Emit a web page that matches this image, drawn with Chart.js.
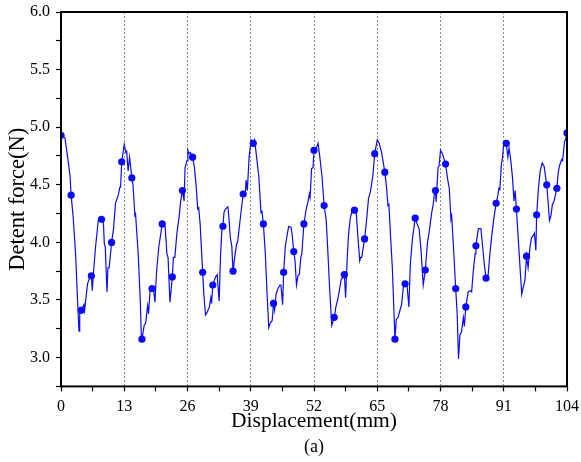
<!DOCTYPE html>
<html>
<head>
<meta charset="utf-8">
<script src="https://cdn.jsdelivr.net/npm/chart.js@4.4.1/dist/chart.umd.min.js"></script>
<style>
  html, body { margin: 0; padding: 0; background: #fff; }
  canvas { display: block; }
</style>
</head>
<body>
<canvas id="forceChart" width="581" height="462"></canvas>
<script>
// traced curve between the marked samples
const traceX = [0.8, 1.36, 1.85, 2.5, 3.0, 3.35, 3.7, 3.85, 4.7, 4.85, 5.45, 5.95, 6.43, 6.7, 7.1, 7.66,
    8.7, 8.9, 9.1, 9.45, 9.65, 9.9, 10.8, 11.2, 11.77, 12.1, 12.25, 13.0, 13.35, 13.5, 13.8, 14.1,
    14.8, 15.2, 15.3, 15.87, 16.3, 16.5, 17.1, 17.4, 17.8, 18.0, 18.3, 19.0, 19.3, 19.65, 20.1,
    21.4, 21.77, 22.0, 22.4, 23.1, 23.4, 23.8, 24.3, 24.6, 25.3, 25.5, 25.9, 26.08, 26.3, 26.6,
    27.4, 27.8, 28.1, 28.3, 28.6, 29.36, 29.7, 30.0, 30.5, 30.8, 30.95, 31.75, 32.1, 32.5, 32.8, 33.1,
    33.5, 33.8, 34.3, 34.5, 34.8, 35.1, 35.7, 36.1, 36.3, 36.8, 37.9, 38.05, 38.3, 38.66, 39.07,
    39.8, 40.2, 40.66, 41.1, 41.3, 42.0, 42.36, 42.7, 43.0, 43.4, 43.9, 44.2, 44.6, 45.0, 45.2, 45.55,
    46.1, 46.5, 46.8, 47.3, 47.5, 48.1, 48.4, 48.7, 48.97, 49.3, 49.5, 50.4, 50.8, 51.05, 51.2, 51.5, 51.8,
    52.4, 52.83, 53.2, 53.65, 54.5, 54.8, 55.2, 55.65, 56.5, 56.85, 57.2, 57.6, 57.8,
    58.5, 58.8, 59.1, 59.5, 59.8, 60.7, 61.0, 61.4, 61.6, 61.8, 62.8, 63.2, 63.6, 64.1,
    65.0, 65.4, 65.9, 66.9, 67.2, 67.4, 67.75, 68.1, 68.4, 68.9, 69.3, 69.6, 70.0, 70.35,
    71.1, 71.5, 71.8, 72.2, 73.2, 73.6, 74.0, 74.45, 75.3, 75.7, 76.2, 76.5, 76.8,
    77.1, 77.5, 77.7, 78.0, 78.4, 79.5, 79.8, 80.15, 80.3, 80.75, 81.43, 81.7, 82.0, 82.3, 82.7, 82.9,
    83.7, 84.1, 84.4, 84.7, 85.1, 85.6, 85.8, 86.3, 86.6, 87.0, 87.8, 88.15, 88.56, 89.0,
    89.8, 90.0, 90.2, 90.5, 90.75, 91.0, 91.85, 92.1, 92.45, 92.8, 93.1, 93.35, 94.0, 94.35, 94.7, 95.0, 95.35,
    96.0, 96.4, 96.7, 97.1, 97.3, 97.6, 98.15, 98.5, 98.9, 99.3, 100.1, 100.4, 100.7, 101.0, 101.35,
    102.2, 102.5, 102.9, 103.1, 103.5, 103.7];
const traceY = [4.91, 4.74, 4.58, 4.22, 3.90, 3.55, 3.23, 3.41, 3.46, 3.41, 3.64, 3.70, 3.58, 3.75, 3.96, 4.19,
    4.19, 3.99, 3.96, 3.57, 3.78, 3.78, 4.12, 4.34, 4.41, 4.48, 4.48, 4.85, 4.78, 4.79, 4.62, 4.74,
    4.50, 4.22, 4.26, 3.90, 3.49, 3.20, 3.28, 3.30, 3.45, 3.38, 3.58, 3.60, 3.48, 3.75, 3.96,
    4.14, 3.90, 3.87, 3.48, 3.87, 3.87, 4.07, 4.23, 4.36, 4.36, 4.65, 4.71, 4.80, 4.77, 4.78,
    4.66, 4.48, 4.29, 4.30, 4.16, 3.55, 3.37, 3.39, 3.44, 3.52, 3.47, 3.70, 3.72, 3.49, 3.90, 4.13,
    4.26, 4.29, 4.31, 4.22, 4.04, 3.97, 3.87, 3.99, 4.00, 4.19, 4.44, 4.54, 4.45, 4.74, 4.89,
    4.89, 4.74, 4.57, 4.26, 4.27, 3.90, 3.55, 3.26, 3.30, 3.32, 3.41, 3.55, 3.60, 3.63, 3.63, 3.46,
    3.96, 4.07, 4.14, 4.13, 4.07, 3.84, 3.63, 3.71, 3.72, 3.87, 3.90, 4.29, 4.36, 4.42, 4.39, 4.64, 4.65,
    4.81, 4.86, 4.74, 4.57, 4.20, 3.96, 3.61, 3.28, 3.44, 3.50, 3.58, 3.68, 3.69,
    3.52, 3.84, 4.07, 4.22, 4.27, 4.25, 4.06, 3.84, 3.87, 3.87, 4.19, 4.38, 4.44, 4.58,
    4.89, 4.86, 4.78, 4.48, 4.32, 4.33, 4.04, 3.78, 3.44, 3.33, 3.35, 3.40, 3.46, 3.61,
    3.64, 3.44, 3.81, 4.02, 4.16, 4.12, 3.93, 3.63, 3.99, 4.10, 4.26, 4.33, 4.44,
    4.35, 4.65, 4.66, 4.80, 4.77, 4.54, 4.47, 4.20, 4.23, 3.90, 3.38, 2.99, 3.20, 3.22, 3.35, 3.27,
    3.57, 3.58, 3.57, 3.73, 3.90, 4.07, 4.12, 4.12, 3.99, 3.81, 3.72, 3.90, 4.07, 4.22,
    4.41, 4.47, 4.46, 4.67, 4.74, 4.86, 4.74, 4.82, 4.71, 4.56, 4.36, 4.45, 4.02, 3.78, 3.55, 3.61, 3.67,
    3.78, 3.96, 4.04, 4.06, 4.08, 3.93, 4.48, 4.62, 4.69, 4.66, 4.36, 4.19, 4.23, 4.33, 4.36,
    4.61, 4.67, 4.72, 4.71, 4.88, 4.89];

// marked samples (filled dots)
const markerX = [0, 2.08, 4.16, 6.24, 8.32, 10.4, 12.48, 14.56, 16.64, 18.72, 20.8, 22.88, 24.96,
    27.04, 29.12, 31.2, 33.28, 35.36, 37.44, 39.52, 41.6, 43.68, 45.76, 47.84, 49.92, 52.0, 54.08,
    56.16, 58.24, 60.32, 62.4, 64.48, 66.56, 68.64, 70.72, 72.8, 74.88, 76.96, 79.04, 81.12, 83.2,
    85.28, 87.36, 89.44, 91.52, 93.6, 95.68, 97.76, 99.84, 101.92, 104];
const markerY = [4.93, 4.41, 3.41, 3.71, 4.20, 4.00, 4.70, 4.56, 3.16, 3.60, 4.16, 3.70, 4.45,
    4.74, 3.74, 3.63, 4.14, 3.75, 4.42, 4.86, 4.16, 3.47, 3.74, 3.92, 4.16, 4.80, 4.32,
    3.35, 3.72, 4.28, 4.03, 4.77, 4.61, 3.16, 3.64, 4.21, 3.76, 4.45, 4.68, 3.60, 3.44,
    3.97, 3.69, 4.34, 4.86, 4.29, 3.88, 4.24, 4.50, 4.47, 4.95];

const xMin = 0, xMax = 104, xStep = 6.5, xLabelStep = 13;
const yMin = 2.75, yMax = 6.0, yStep = 0.25, yLabelStep = 0.5;

const serif = "'Liberation Serif', 'Times New Roman', serif";
const blue = "#0a0aff";

const markerPoints = markerX.map((x, i) => ({ x: x, y: markerY[i] }));
const linePoints = traceX.map((x, i) => ({ x: x, y: traceY[i] }))
    .concat(markerPoints)
    .sort((a, b) => a.x - b.x);

function isMultiple(v, step) {
    const r = v / step;
    return Math.abs(r - Math.round(r)) < 1e-6;
}

const framePlugin = {
    id: "frame",
    afterDatasetsDraw(chart) {
        const { ctx, chartArea } = chart;
        ctx.save();
        ctx.strokeStyle = "#000";
        ctx.lineWidth = 2;
        ctx.strokeRect(chartArea.left, chartArea.top, chartArea.right - chartArea.left, chartArea.bottom - chartArea.top);
        ctx.restore();
    }
};

new Chart(document.getElementById("forceChart"), {
    type: "line",
    data: {
        datasets: [
            { data: markerPoints, showLine: false, pointRadius: 3.6, pointBackgroundColor: blue, pointBorderWidth: 0, borderColor: blue },
            { data: linePoints, borderColor: blue, borderWidth: 1.2, pointRadius: 0, tension: 0, fill: false }
        ]
    },
    options: {
        responsive: false,
        devicePixelRatio: 1,
        animation: false,
        layout: { padding: { left: 0, top: 12, right: 14, bottom: 0 } },
        plugins: {
            legend: { display: false },
            tooltip: { enabled: false },
            title: {
                display: true,
                text: "(a)",
                position: "bottom",
                fullSize: false,
                color: "#000",
                font: { family: serif, size: 18, weight: "normal" },
                padding: { top: 0, bottom: 4 }
            }
        },
        scales: {
            x: {
                type: "linear",
                min: xMin,
                max: xMax,
                afterFit: (scale) => {
                    scale.height = 50;
                    scale.paddingLeft = 0;
                    scale.paddingRight = 0;
                },
                ticks: {
                    stepSize: xStep,
                    autoSkip: false,
                    maxRotation: 0,
                    padding: 6,
                    color: "#000",
                    font: { family: serif, size: 16 },
                    callback: (v) => isMultiple(v, xLabelStep) ? String(Math.round(v)) : ""
                },
                grid: {
                    tickLength: 5,
                    tickColor: "#000",
                    tickWidth: 1.2,
                    lineWidth: 1,
                    color: (c) => {
                        const v = c.tick ? c.tick.value : 0;
                        return (isMultiple(v, xLabelStep) && v > xMin && v < xMax) ? "#8a8a8a" : "rgba(0,0,0,0)";
                    }
                },
                border: { display: false, dash: [2, 2] },
                title: {
                    display: true,
                    text: "Displacement(mm)",
                    color: "#000",
                    font: { family: serif, size: 21.5 },
                    padding: { top: 0, bottom: 2 }
                }
            },
            y: {
                min: yMin,
                max: yMax,
                afterFit: (scale) => {
                    scale.width = 61;
                    scale.paddingTop = 0;
                    scale.paddingBottom = 0;
                },
                ticks: {
                    stepSize: yStep,
                    autoSkip: false,
                    padding: 6,
                    color: "#000",
                    font: { family: serif, size: 16 },
                    callback: (v) => (isMultiple(v, yLabelStep) && v >= 3) ? v.toFixed(1) : ""
                },
                grid: {
                    tickLength: 5,
                    tickColor: "#000",
                    tickWidth: 1.2,
                    color: "rgba(0,0,0,0)"
                },
                border: { display: false },
                title: {
                    display: true,
                    text: "Detent force(N)",
                    color: "#000",
                    font: { family: serif, size: 22.5 },
                    padding: { top: 5, bottom: 0 }
                }
            }
        }
    },
    plugins: [framePlugin]
});
</script>
</body>
</html>
